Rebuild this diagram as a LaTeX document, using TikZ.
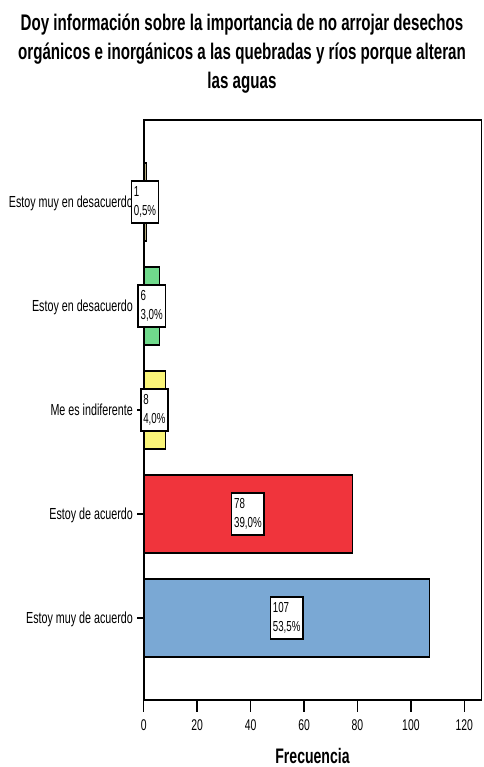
\documentclass[tikz,border=0pt]{standalone}
\usepackage{fontspec}
\setmainfont{Liberation Sans}[FakeStretch=0.67]
\definecolor{cKhaki}{RGB}{184,174,128}
\definecolor{cGreen}{RGB}{112,218,140}
\definecolor{cYellow}{RGB}{250,245,120}
\definecolor{cRed}{RGB}{240,52,60}
\definecolor{cBlue}{RGB}{122,168,212}
\begin{document}
\begin{tikzpicture}[x=1pt,y=-1pt,
  barbox/.style={draw=black,line width=1.1pt},
  valbox/.style={draw=black,fill=white,line width=1.4pt,inner xsep=2.5pt,inner ysep=0pt,minimum height=42pt,align=left,font=\fontsize{14.5}{19}\selectfont},
  catlbl/.style={anchor=base east,inner sep=0pt,font=\fontsize{16}{18}\selectfont},
  ticklbl/.style={anchor=base,inner sep=0pt,font=\fontsize{15.5}{18}\selectfont},
  titlelbl/.style={anchor=base,inner sep=0pt,font=\bfseries\fontsize{22.6}{29}\selectfont},
  axisline/.style={line width=1.3pt}]
\path[use as bounding box] (0,0) rectangle (483,767);
\fill[white] (0,0) rectangle (483,767);
% title
\node[titlelbl] (t1) at (242,31) {Doy información sobre la importancia de no arrojar desechos};
\node[titlelbl] (t2) at (242,60) {orgánicos e inorgánicos a las quebradas y ríos porque alteran};
\node[titlelbl] (t3) at (242,89) {las aguas};
% frame
\draw[axisline] (143.7,120) rectangle (481.5,700);
% bars
\draw[barbox,fill=cKhaki] (143.7,163) rectangle (146.4,241);
\draw[barbox,fill=cGreen] (143.7,267) rectangle (159.7,345);
\draw[barbox,fill=cYellow] (143.7,371) rectangle (165.1,449);
\draw[barbox,fill=cRed] (143.7,475) rectangle (352.1,553);
\draw[barbox,fill=cBlue] (143.7,579) rectangle (429.6,657);
\draw[line width=2pt] (143.7,120) -- (143.7,700);
% category ticks and labels
\foreach \yy/\nm/\txt in {202/c1/Estoy muy en desacuerdo,306/c2/Estoy en desacuerdo,410/c3/Me es indiferente,514/c4/Estoy de acuerdo,618/c5/Estoy muy de acuerdo}{
  \coordinate (\nm t) at (137,\yy);
  \coordinate (\nm a) at (143.7,\yy);
  \draw[axisline] (\nm t) -- (\nm a);
  \node[catlbl] (\nm) at (133,\yy+5.5) {\txt};
}
% value boxes
\node[valbox] (v1) at (145,202) {1\\0,5\%};
\node[valbox] (v2) at (151.7,306) {6\\3,0\%};
\node[valbox] (v3) at (154.4,410) {8\\4,0\%};
\node[valbox] (v4) at (247.9,514) {78\\39,0\%};
\node[valbox] (v5) at (286.7,618) {107\\53,5\%};
% x ticks
\foreach \v in {0,20,...,120}{
  \coordinate (xt\v) at ({143.7+2.672*\v},700);
  \coordinate (xb\v) at ({143.7+2.672*\v},712);
  \draw[axisline] (xt\v) -- (xb\v);
  \node[ticklbl] (xl\v) at ({143.7+2.672*\v},730) {\v};
}
\node[anchor=base,inner sep=0pt,font=\bfseries\fontsize{21}{24}\selectfont] (xlab) at (312.5,763) {Frecuencia};
\end{tikzpicture}
\end{document}
